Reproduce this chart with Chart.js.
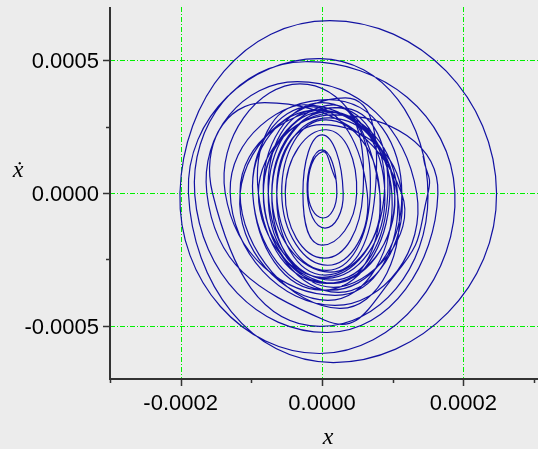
<!DOCTYPE html>
<html>
<head>
<meta charset="utf-8">
<script src="https://cdn.jsdelivr.net/npm/chart.js@4/dist/chart.umd.min.js"></script>
<style>
  html, body { margin: 0; padding: 0; background: #ececec; }
  #wrap { width: 538px; height: 449px; }
</style>
</head>
<body>
<div id="wrap"><canvas id="c" width="538" height="449"></canvas></div>
<script>
// Phase portrait of the oscillator: displacement x against velocity x-dot.
// Trajectory samples are stored in units of 1e-4.
const UNIT = 1e-4;

const xVals = [
  1.43, 1.50, 1.03, 0.04, -1.63, -0.35,
  1.34, 0.18, -1.30, 0.11,
  1.13, 0.11, -0.98, -0.06,
  1.03, 0.06, -0.90, -0.24,
  1.07, 0.25, -1.16, 0.25,
  0.93, 0.14, -0.83, 0.18,
  1.64, 0.07, -1.80, -0.24,
  1.88, -0.03, -2.01, 0.11,
  2.47, 0.16, -1.89, -0.03,
  1.50, -0.03, -1.55, -0.81,
  1.13, 0.16, -0.71, 0.20,
  0.88, 0.00, -0.76, 0.04,
  1.07, 0.18, -1.37, -0.31,
  0.82, 0.04, -0.64, 0.11,
  1.03, 0.11, -0.83, 0.00,
  0.89, 0.06, -0.76, -0.06,
  0.99, 0.08, -1.16, 0.33,
  0.75, 0.11, -0.71, 0.11,
  0.96, 0.00, -0.98, -0.17,
  0.64, 0.08, -0.57, 0.06,
  0.82, 0.16, -0.90, 0.18,
  0.68, 0.06, -0.64, 0.00,
  1.13, 0.23, -0.83, 0.16,
  0.58, 0.03, -0.52, 0.06,
  0.49, 0.00, -0.27, 0.00,
  0.30, 0.04, -0.21, 0.00,
  0.21, 0.01, -0.20, 0.00,
  0.20
];

const vVals = [
  1.40, 0.00, -3.09, -4.79, 0.00, 4.19,
  0.00, -4.23, 0.04, 3.51,
  -0.08, -3.66, -0.04, 3.13,
  -0.11, -3.40, 0.00, 3.32,
  -0.11, -4.34, 0.04, 3.21,
  -0.04, -3.28, 0.00, 2.94,
  -0.04, -5.25, -0.08, 4.94,
  0.04, -6.04, 0.00, 6.49,
  0.00, -6.38, 0.00, 5.06,
  -0.11, -5.02, 0.00, 3.40,
  -0.04, -3.55, -0.04, 3.21,
  -0.08, -3.17, -0.04, 3.06,
  -0.08, -3.85, 0.00, 4.11,
  -0.04, -3.09, 0.00, 2.83,
  -0.11, -3.40, -0.04, 3.40,
  -0.04, -3.21, 0.00, 3.13,
  -0.08, -4.04, -0.04, 3.58,
  -0.04, -2.98, 0.00, 3.06,
  -0.08, -3.66, -0.04, 3.25,
  0.00, -2.72, 0.00, 2.75,
  -0.08, -3.40, 0.00, 3.02,
  -0.11, -2.91, -0.04, 2.57,
  -0.08, -3.74, 0.00, 3.32,
  0.00, -2.45, 0.04, 2.38,
  -0.04, -1.96, 0.00, 2.19,
  0.00, -1.32, 0.04, 1.62,
  0.04, -0.94, 0.11, 1.55,
  0.49
];

const xMajorTicks = [-0.0002, 0, 0.0002];
const xMinorTicks = [-0.0003, -0.0001, 0.0001, 0.0003];
const yMajorTicks = [-0.0005, 0, 0.0005];
const yMinorTicks = [-0.00025, 0.00025];
const xLimits = [-0.0003, 0.0003];
const yLimits = [-0.0007, 0.0007];
const xTitle = 'x';
const yTitle = '\u1E8B';

const points = xVals.map((xv, i) => ({ x: xv * UNIT, y: vVals[i] * UNIT }));

const AXIS_COLOR = '#333333';
const GRID_COLOR = 'rgb(0,240,0)';
const LABEL_FONT = "22px 'Liberation Sans', Arial, sans-serif";
const TITLE_FONT = "italic 24px 'Liberation Serif', 'DejaVu Serif', serif";

const fmt = v => (Math.abs(v) < 1e-12 ? 0 : v).toFixed(4);
const snap = p => Math.round(p) + 0.5;

const phaseFrame = {
  id: 'phaseFrame',
  beforeDraw(chart) {
    const { ctx, width, height } = chart;
    ctx.save();
    ctx.fillStyle = '#ececec';
    ctx.fillRect(0, 0, width, height);
    ctx.restore();
  },
  beforeDatasetsDraw(chart) {
    const { ctx, chartArea: a, scales: { x, y } } = chart;
    ctx.save();
    ctx.strokeStyle = GRID_COLOR;
    ctx.lineWidth = 1;
    ctx.setLineDash([5, 2, 1, 2]);
    xMajorTicks.forEach(v => {
      const px = snap(x.getPixelForValue(v));
      ctx.beginPath(); ctx.moveTo(px, a.top); ctx.lineTo(px, a.bottom); ctx.stroke();
    });
    yMajorTicks.forEach(v => {
      const py = snap(y.getPixelForValue(v));
      ctx.beginPath(); ctx.moveTo(a.left, py); ctx.lineTo(chart.width, py); ctx.stroke();
    });
    ctx.restore();
  },
  afterDatasetsDraw(chart) {
    const { ctx, chartArea: a, scales: { x, y } } = chart;
    ctx.save();
    ctx.setLineDash([]);
    ctx.strokeStyle = AXIS_COLOR;
    ctx.lineWidth = 2;
    // axis lines
    ctx.beginPath();
    ctx.moveTo(a.left, a.top);
    ctx.lineTo(a.left, a.bottom);
    ctx.lineTo(chart.width, a.bottom);
    ctx.stroke();
    // tick marks
    ctx.lineWidth = 1.5;
    const tickX = (v, len) => {
      const px = snap(x.getPixelForValue(v));
      ctx.beginPath(); ctx.moveTo(px, a.bottom); ctx.lineTo(px, a.bottom + len); ctx.stroke();
    };
    const tickY = (v, len) => {
      const py = snap(y.getPixelForValue(v));
      ctx.beginPath(); ctx.moveTo(a.left, py); ctx.lineTo(a.left - len, py); ctx.stroke();
    };
    xMajorTicks.forEach(v => tickX(v, 7));
    xMinorTicks.forEach(v => tickX(v, 4));
    yMajorTicks.forEach(v => tickY(v, 7));
    yMinorTicks.forEach(v => tickY(v, 4));
    // tick labels
    ctx.fillStyle = '#000';
    ctx.font = LABEL_FONT;
    ctx.textBaseline = 'alphabetic';
    ctx.textAlign = 'center';
    xMajorTicks.forEach(v => ctx.fillText(fmt(v), x.getPixelForValue(v), a.bottom + 31));
    ctx.textAlign = 'right';
    yMajorTicks.forEach(v => ctx.fillText(fmt(v), a.left - 11, y.getPixelForValue(v) + 8));
    // axis titles
    ctx.font = TITLE_FONT;
    ctx.textAlign = 'center';
    ctx.fillText(xTitle, (a.left + a.right) / 2 + 6, 444);
    ctx.fillText(yTitle, 18, 177);
    ctx.restore();
  }
};

new Chart(document.getElementById('c'), {
  type: 'scatter',
  data: {
    datasets: [{
      data: points,
      showLine: true,
      tension: 0.55,
      borderColor: '#1212a2',
      borderWidth: 1.2,
      pointRadius: 0,
      pointHoverRadius: 0,
      fill: false
    }]
  },
  options: {
    responsive: false,
    animation: false,
    events: [],
    layout: { padding: { left: 110, right: 4, top: 7, bottom: 70 } },
    scales: {
      x: { type: 'linear', min: xLimits[0], max: xLimits[1], display: false },
      y: { type: 'linear', min: yLimits[0], max: yLimits[1], display: false }
    },
    plugins: { legend: { display: false }, tooltip: { enabled: false } }
  },
  plugins: [phaseFrame]
});
</script>
</body>
</html>
